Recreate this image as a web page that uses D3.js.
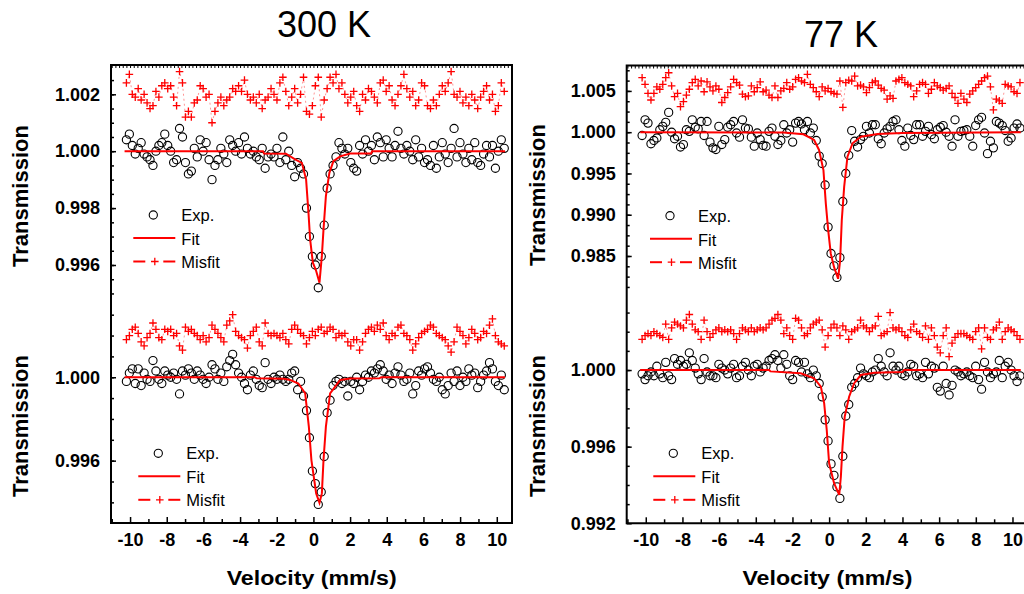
<!DOCTYPE html>
<html>
<head>
<meta charset="utf-8">
<script src="https://cdn.jsdelivr.net/npm/d3@7"></script>
<style>
  body { margin: 0; background: #fff; }
  svg { display: block; font-family: "Liberation Sans", Arial, Helvetica, sans-serif; }
</style>
</head>
<body>
<svg id="chart" width="1024" height="594"></svg>
<script>
// velocity channels are evenly spaced, starting at -10.2 mm/s
const velStart = -10.2;
const velStep = 0.161;

const xTicks = [-10, -8, -6, -4, -2, 0, 2, 4, 6, 8, 10];
const ticksTL = [0.996, 0.998, 1.000, 1.002];
const ticksBL = [0.996, 1.000];
const ticksTR = [0.985, 0.990, 0.995, 1.000, 1.005];
const ticksBR = [0.992, 0.996, 1.000];

// 300 K, upper spectrum
const expTL = [
  1.0004, 1.0006, 1.0002, 0.9999, 1.0001, 1.0003, 0.9999, 0.9998, 0.9997, 0.9995,
  1.0000, 1.0002, 1.0003, 1.0006, 1.0002, 1.0000, 0.9996, 0.9997, 1.0008, 1.0005,
  0.9996, 0.9992, 0.9993, 1.0001, 0.9998, 1.0004, 1.0000, 1.0003, 0.9997, 0.9990,
  0.9995, 0.9997, 1.0001, 0.9999, 0.9996, 1.0004, 1.0002, 1.0000, 1.0003, 0.9999,
  1.0005, 1.0001, 0.9999, 1.0000, 0.9998, 0.9997, 1.0001, 0.9994, 0.9998, 0.9999,
  0.9998, 1.0001, 0.9996, 1.0005, 0.9997, 1.0000, 0.9995, 0.9991, 0.9996, 0.9994,
  0.9992, 0.9980, 0.9970, 0.9963, 0.9960, 0.9952, 0.9963, 0.9974, 0.9987, 0.9992,
  0.9995, 0.9998, 1.0003, 1.0001, 0.9999, 1.0001, 0.9996, 0.9994, 0.9993, 1.0002,
  0.9999, 1.0004, 1.0000, 1.0002, 0.9997, 1.0005, 1.0003, 0.9998, 1.0004, 1.0001,
  0.9998, 1.0002, 1.0007, 1.0001, 0.9999, 1.0002, 1.0000, 0.9997, 1.0004, 0.9998,
  1.0001, 0.9996, 0.9997, 0.9995, 1.0002, 0.9994, 0.9998, 1.0003, 0.9999, 0.9996,
  1.0001, 1.0008, 0.9998, 1.0003, 0.9999, 0.9996, 1.0001, 0.9997, 1.0003, 0.9996,
  0.9995, 0.9999, 1.0002, 0.9998, 1.0002, 0.9994, 1.0000, 1.0004, 1.0001
];
const misTL = [
  1.0024, 1.0027, 1.0020, 1.0019, 1.0022, 1.0018, 1.0020, 1.0017, 1.0015, 1.0016,
  1.0021, 1.0019, 1.0023, 1.0024, 1.0022, 1.0023, 1.0019, 1.0016, 1.0028, 1.0024,
  1.0012, 1.0014, 1.0012, 1.0017, 1.0018, 1.0023, 1.0022, 1.0019, 1.0020, 1.0010,
  1.0014, 1.0017, 1.0019, 1.0016, 1.0018, 1.0019, 1.0022, 1.0021, 1.0023, 1.0021,
  1.0025, 1.0020, 1.0018, 1.0019, 1.0017, 1.0020, 1.0015, 1.0018, 1.0019, 1.0022,
  1.0020, 1.0018, 1.0024, 1.0026, 1.0021, 1.0016, 1.0019, 1.0022, 1.0017, 1.0020,
  1.0026, 1.0014, 1.0013, 1.0016, 1.0023, 1.0026, 1.0012, 1.0018, 1.0022, 1.0026,
  1.0024, 1.0027, 1.0022, 1.0024, 1.0020, 1.0017, 1.0019, 1.0021, 1.0016, 1.0014,
  1.0020, 1.0018, 1.0022, 1.0021, 1.0019, 1.0017, 1.0024, 1.0025, 1.0021, 1.0023,
  1.0018, 1.0016, 1.0020, 1.0023, 1.0027, 1.0022, 1.0019, 1.0021, 1.0016, 1.0018,
  1.0024, 1.0023, 1.0016, 1.0015, 1.0018, 1.0016, 1.0020, 1.0023, 1.0021, 1.0024,
  1.0028, 1.0020, 1.0019, 1.0021, 1.0017, 1.0019, 1.0016, 1.0020, 1.0018, 1.0015,
  1.0019, 1.0021, 1.0023, 1.0018, 1.0020, 1.0014, 1.0016, 1.0024, 1.0021
];
const fitTL = [
  [-10.3, 1.0], [-2.75, 1.0], [-2.7, 0.99992], [-1.5, 0.99991], [-1.0, 0.99971],
  [-0.63, 0.99959], [-0.40, 0.99901], [-0.27, 0.99784], [-0.18, 0.99690], [-0.03, 0.99608],
  [0.15, 0.99579], [0.33, 0.99538], [0.46, 0.99632], [0.55, 0.99725], [0.68, 0.99842],
  [0.87, 0.99924], [1.09, 0.99965], [1.46, 0.99982], [2.0, 0.99992], [3.15, 0.99992],
  [3.2, 1.0], [10.45, 1.0]
];

// 300 K, lower spectrum
const expBL = [
  0.9998, 1.0002, 1.0004, 0.9997, 1.0004, 0.9996, 1.0002, 0.9999, 0.9998, 1.0008,
  1.0003, 0.9999, 0.9997, 1.0003, 1.0001, 1.0000, 1.0002, 0.9999, 0.9992, 1.0003,
  1.0001, 1.0004, 1.0002, 0.9999, 1.0003, 1.0001, 0.9999, 0.9997, 1.0000, 1.0006,
  1.0004, 0.9999, 1.0002, 0.9998, 1.0005, 1.0008, 1.0011, 1.0006, 1.0002, 1.0000,
  0.9997, 0.9994, 1.0001, 1.0003, 0.9999, 0.9996, 0.9995, 1.0007, 0.9999, 0.9997,
  1.0000, 0.9999, 1.0001, 0.9999, 0.9998, 0.9999, 1.0002, 1.0003, 0.9994, 0.9998,
  0.9991, 0.9984, 0.9971, 0.9955, 0.9949, 0.9939, 0.9945, 0.9962, 0.9983, 0.9989,
  0.9996, 0.9998, 0.9999, 0.9997, 0.9998, 0.9991, 0.9998, 0.9997, 1.0000, 0.9994,
  0.9998, 1.0001, 1.0000, 1.0003, 1.0002, 1.0004, 1.0006, 1.0003, 0.9999, 1.0001,
  0.9997, 1.0002, 1.0005, 1.0001, 0.9998, 0.9999, 1.0002, 0.9992, 0.9996, 1.0003,
  1.0001, 1.0004, 1.0005, 1.0002, 0.9999, 0.9998, 1.0000, 0.9994, 0.9992, 0.9996,
  1.0002, 0.9998, 1.0003, 0.9996, 1.0000, 0.9998, 1.0004, 1.0001, 1.0002, 0.9995,
  0.9998, 1.0001, 1.0003, 1.0007, 1.0004, 0.9998, 0.9996, 1.0001, 0.9994
];
const misBL = [
  1.0018, 1.0020, 1.0023, 1.0024, 1.0021, 1.0017, 1.0015, 1.0019, 1.0021, 1.0026,
  1.0023, 1.0019, 1.0018, 1.0023, 1.0022, 1.0023, 1.0020, 1.0021, 1.0015, 1.0013,
  1.0024, 1.0022, 1.0023, 1.0021, 1.0020, 1.0018, 1.0020, 1.0017, 1.0019, 1.0025,
  1.0023, 1.0021, 1.0019, 1.0017, 1.0025, 1.0027, 1.0030, 1.0022, 1.0020, 1.0019,
  1.0018, 1.0014, 1.0020, 1.0022, 1.0024, 1.0017, 1.0015, 1.0026, 1.0021, 1.0020,
  1.0021, 1.0020, 1.0019, 1.0021, 1.0018, 1.0016, 1.0023, 1.0025, 1.0023, 1.0021,
  1.0020, 1.0016, 1.0019, 1.0022, 1.0020, 1.0023, 1.0024, 1.0021, 1.0022, 1.0024,
  1.0023, 1.0019, 1.0021, 1.0020, 1.0021, 1.0017, 1.0015, 1.0018, 1.0018, 1.0013,
  1.0017, 1.0021, 1.0023, 1.0024, 1.0022, 1.0025, 1.0023, 1.0026, 1.0020, 1.0018,
  1.0021, 1.0020, 1.0024, 1.0025, 1.0021, 1.0020, 1.0018, 1.0013, 1.0016, 1.0019,
  1.0021, 1.0022, 1.0023, 1.0025, 1.0024, 1.0021, 1.0020, 1.0019, 1.0018, 1.0015,
  1.0012, 1.0017, 1.0024, 1.0022, 1.0020, 1.0016, 1.0019, 1.0023, 1.0021, 1.0018,
  1.0019, 1.0022, 1.0021, 1.0025, 1.0028, 1.0020, 1.0017, 1.0016, 1.0015
];
const fitBL = [
  [-10.3, 1.0], [-3.2, 1.0], [-3.1, 0.99995], [-1.6, 0.99993], [-1.27, 0.99987],
  [-0.82, 0.99970], [-0.45, 0.99923], [-0.25, 0.99763], [-0.11, 0.99603], [0.15, 0.99443],
  [0.33, 0.99398], [0.46, 0.99443], [0.55, 0.99603], [0.68, 0.99763], [0.91, 0.99923],
  [1.46, 0.99987], [2.0, 0.99994], [3.6, 0.99995], [3.7, 1.0], [10.45, 1.0]
];

// 77 K, upper spectrum
const expTR = [
  0.9996, 1.0015, 1.0011, 0.9986, 0.9990, 0.9993, 1.0003, 1.0007, 1.0012, 1.0024,
  1.0000, 0.9992, 0.9995, 0.9982, 0.9985, 1.0003, 1.0001, 1.0015, 1.0006, 1.0004,
  1.0013, 0.9996, 1.0013, 0.9988, 0.9981, 0.9979, 1.0007, 0.9985, 0.9991, 1.0006,
  1.0009, 1.0013, 0.9999, 0.9994, 1.0015, 1.0005, 1.0004, 0.9994, 0.9983, 0.9999,
  0.9991, 0.9984, 0.9983, 1.0001, 1.0005, 0.9995, 0.9985, 0.9990, 1.0009, 0.9999,
  1.0003, 0.9988, 1.0011, 1.0013, 1.0010, 1.0003, 1.0013, 0.9999, 1.0005, 0.9990,
  0.9971, 0.9962, 0.9936, 0.9885, 0.9853, 0.9838, 0.9824, 0.9848, 0.9916, 0.9950,
  0.9972, 1.0002, 0.9989, 0.9982, 0.9991, 0.9995, 1.0007, 0.9999, 1.0009, 1.0009,
  0.9992, 0.9986, 0.9999, 1.0004, 1.0007, 1.0013, 1.0015, 1.0003, 0.9990, 0.9983,
  1.0005, 0.9996, 0.9991, 1.0009, 1.0009, 0.9995, 1.0001, 1.0007, 0.9997, 0.9992,
  1.0003, 1.0006, 1.0008, 1.0000, 0.9995, 0.9983, 1.0015, 0.9995, 1.0001, 1.0002,
  1.0003, 0.9995, 0.9983, 1.0008, 1.0015, 1.0018, 0.9999, 0.9974, 0.9989, 0.9981,
  1.0013, 1.0011, 1.0008, 1.0002, 0.9989, 0.9993, 1.0005, 1.0010, 1.0005
];
const misTR = [
  1.0066, 1.0058, 1.0047, 1.0039, 1.0047, 1.0055, 1.0052, 1.0058, 1.0066, 1.0072,
  1.0056, 1.0043, 1.0047, 1.0031, 1.0037, 1.0045, 1.0052, 1.0060, 1.0064, 1.0056,
  1.0062, 1.0049, 1.0061, 1.0055, 1.0050, 1.0056, 1.0052, 1.0036, 1.0042, 1.0048,
  1.0055, 1.0064, 1.0060, 1.0057, 1.0046, 1.0043, 1.0044, 1.0056, 1.0049, 1.0054,
  1.0061, 1.0049, 1.0051, 1.0045, 1.0042, 1.0056, 1.0042, 1.0050, 1.0053, 1.0060,
  1.0052, 1.0055, 1.0064, 1.0066, 1.0062, 1.0060, 1.0070, 1.0058, 1.0054, 1.0049,
  1.0043, 1.0055, 1.0050, 1.0053, 1.0049, 1.0047, 1.0046, 1.0062, 1.0030, 1.0060,
  1.0063, 1.0062, 1.0068, 1.0056, 1.0057, 1.0055, 1.0048, 1.0054, 1.0060, 1.0062,
  1.0057, 1.0053, 1.0051, 1.0040, 1.0044, 1.0041, 1.0062, 1.0064, 1.0066, 1.0060,
  1.0058, 1.0056, 1.0043, 1.0050, 1.0058, 1.0060, 1.0058, 1.0047, 1.0052, 1.0060,
  1.0056, 1.0054, 1.0051, 1.0053, 1.0056, 1.0047, 1.0042, 1.0035, 1.0047, 1.0040,
  1.0036, 1.0046, 1.0050, 1.0054, 1.0058, 1.0062, 1.0066, 1.0068, 1.0055, 1.0027,
  1.0040, 1.0038, 1.0035, 1.0058, 1.0056, 1.0055, 1.0049, 1.0047, 1.0060
];
const fitTR = [
  [-10.3, 1.0], [-2.5, 0.99995], [-1.4, 0.99975], [-0.82, 0.99906], [-0.55, 0.99785],
  [-0.31, 0.99541], [-0.18, 0.99135], [-0.05, 0.98811], [0.09, 0.98528], [0.27, 0.98365],
  [0.49, 0.98224], [0.60, 0.98447], [0.69, 0.98933], [0.82, 0.99338], [1.0, 0.99703],
  [1.28, 0.99866], [1.73, 0.99946], [2.64, 0.99979], [4.0, 0.99990], [10.45, 1.0]
];

// 77 K, lower spectrum
const expBR = [
  0.9998, 0.9995, 0.9997, 0.9999, 0.9997, 1.0002, 0.9998, 0.9996, 1.0004, 0.9997,
  0.9995, 1.0006, 1.0003, 1.0005, 1.0002, 1.0003, 1.0009, 1.0005, 1.0001, 0.9998,
  0.9995, 1.0006, 0.9999, 0.9997, 0.9997, 0.9996, 1.0003, 1.0001, 1.0000, 0.9998,
  1.0001, 1.0003, 0.9996, 0.9997, 1.0002, 1.0004, 1.0000, 0.9997, 1.0002, 1.0003,
  0.9999, 1.0001, 1.0002, 1.0005, 1.0006, 1.0008, 1.0005, 1.0001, 1.0008, 1.0003,
  0.9997, 0.9995, 1.0005, 1.0004, 0.9999, 1.0004, 0.9998, 0.9996, 1.0000, 0.9997,
  0.9993, 0.9986, 0.9974, 0.9963, 0.9951, 0.9945, 0.9939, 0.9933, 0.9955, 0.9976,
  0.9982, 0.9991, 0.9993, 0.9996, 1.0001, 0.9998, 0.9997, 0.9996, 0.9999, 1.0000,
  1.0006, 1.0002, 0.9999, 0.9997, 1.0009, 1.0002, 1.0000, 1.0002, 0.9998, 0.9997,
  0.9999, 1.0003, 1.0002, 0.9997, 0.9998, 0.9996, 1.0004, 0.9998, 1.0002, 1.0001,
  0.9991, 0.9989, 1.0002, 0.9993, 0.9987, 0.9992, 1.0000, 0.9999, 0.9997, 0.9998,
  0.9999, 0.9997, 0.9996, 1.0002, 0.9995, 0.9990, 1.0004, 0.9999, 0.9996, 0.9998,
  0.9999, 1.0005, 0.9996, 1.0002, 1.0004, 1.0000, 0.9997, 0.9994, 0.9997
];
const misBR = [
  1.0016, 1.0018, 1.0019, 1.0018, 1.0020, 1.0019, 1.0018, 1.0017, 1.0024, 1.0016,
  1.0022, 1.0025, 1.0024, 1.0023, 1.0022, 1.0026, 1.0029, 1.0024, 1.0021, 1.0020,
  1.0016, 1.0026, 1.0020, 1.0017, 1.0019, 1.0021, 1.0022, 1.0020, 1.0021, 1.0020,
  1.0021, 1.0019, 1.0016, 1.0019, 1.0022, 1.0021, 1.0020, 1.0022, 1.0020, 1.0021,
  1.0022, 1.0021, 1.0022, 1.0024, 1.0026, 1.0027, 1.0029, 1.0026, 1.0019, 1.0022,
  1.0018, 1.0016, 1.0027, 1.0026, 1.0022, 1.0018, 1.0019, 1.0022, 1.0024, 1.0025,
  1.0026, 1.0021, 1.0012, 1.0018, 1.0022, 1.0024, 1.0022, 1.0018, 1.0023, 1.0021,
  1.0016, 1.0020, 1.0021, 1.0022, 1.0026, 1.0023, 1.0022, 1.0020, 1.0022, 1.0023,
  1.0028, 1.0018, 1.0019, 1.0020, 1.0030, 1.0022, 1.0021, 1.0022, 1.0020, 1.0018,
  1.0017, 1.0021, 1.0024, 1.0020, 1.0019, 1.0017, 1.0023, 1.0016, 1.0022, 1.0018,
  1.0012, 1.0009, 1.0018, 1.0022, 1.0007, 1.0014, 1.0017, 1.0019, 1.0019, 1.0019,
  1.0018, 1.0017, 1.0016, 1.0020, 1.0022, 1.0011, 1.0022, 1.0017, 1.0016, 1.0021,
  1.0022, 1.0025, 1.0016, 1.0020, 1.0022, 1.0021, 1.0020, 1.0018, 1.0016
];
const fitBR = [
  [-10.3, 1.0], [-3.27, 1.0], [-3.2, 0.99993], [-1.55, 0.99983], [-0.82, 0.99957],
  [-0.45, 0.99913], [-0.27, 0.99826], [-0.13, 0.99687], [0.0, 0.99513], [0.27, 0.99409],
  [0.55, 0.99348], [0.64, 0.99443], [0.73, 0.99600], [0.85, 0.99757], [1.09, 0.99861],
  [1.36, 0.99930], [1.73, 0.99974], [2.45, 0.99986], [4.0, 0.99990], [4.09, 1.0], [10.45, 1.0]
];

const svg = d3.select('#chart');
const red = '#ff0000';
const xDomain = [-11.04, 10.83];
const colWidth = 401;

const columns = [
  { left: 111, top: 65, bottom: 523, title: '300 K', titleX: 324, titleY: 37, labelX: 28 },
  { left: 626.7, top: 65.5, bottom: 523.3, title: '77 K', titleX: 841, titleY: 46.5, labelX: 545 }
];

const panels = [
  { col: 0, top: 65, bottom: 298, domain: [0.99484, 1.00303], ticks: ticksTL, minor: 0.0005,
    exp: expTL, mis: misTL, fit: fitTL, legend: [153.3, 215], labelY: 196 },
  { col: 0, top: 298, bottom: 523, domain: [0.99301, 1.0038], ticks: ticksBL, minor: 0.001,
    exp: expBL, mis: misBL, fit: fitBL, legend: [158.3, 453.3], labelY: 426 },
  { col: 1, top: 65.5, bottom: 298, domain: [0.97991, 1.00808], ticks: ticksTR, minor: 0.00125,
    exp: expTR, mis: misTR, fit: fitTR, legend: [670, 215.7], labelY: 195 },
  { col: 1, top: 298, bottom: 523.3, domain: [0.992, 1.00376], ticks: ticksBR, minor: 0.001,
    exp: expBR, mis: misBR, fit: fitBR, legend: [673.3, 453.3], labelY: 426 }
];

const plusPath = 'M-3.8,0H3.8M0,-3.8V3.8';

columns.forEach(c => {
  const x = d3.scaleLinear().domain(xDomain).range([c.left, c.left + colWidth]);
  c.x = x;
  const g = svg.append('g');

  // bottom axis, ticks pointing inward
  g.append('g')
    .attr('transform', `translate(0,${c.bottom})`)
    .call(d3.axisBottom(x).tickValues(xTicks).tickSize(-6).tickPadding(10).tickFormat(d => String(d)))
    .call(a => a.select('.domain').remove())
    .call(a => a.selectAll('line').attr('stroke', '#000').attr('stroke-width', 1.5))
    .call(a => a.selectAll('text').attr('font-size', 18).attr('font-weight', 'bold')
      .attr('font-family', '"Liberation Sans", Arial, sans-serif').attr('fill', '#000'));
  g.append('g')
    .attr('transform', `translate(0,${c.bottom})`)
    .call(d3.axisBottom(x).tickValues(d3.range(-11, 11, 1).filter(v => v % 2 !== 0)).tickSize(-4).tickFormat(''))
    .call(a => a.select('.domain').remove())
    .call(a => a.selectAll('line').attr('stroke', '#000').attr('stroke-width', 1.5));

  // fine ruler ticks along the top edge
  g.append('g')
    .attr('transform', `translate(0,${c.top})`)
    .call(d3.axisTop(x).tickValues(d3.range(-110, 109, 2).map(k => k / 10)).tickSize(-3).tickFormat(''))
    .call(a => a.select('.domain').remove())
    .call(a => a.selectAll('line').attr('stroke', '#000').attr('stroke-width', 1));

  // frame
  const r = c.left + colWidth;
  g.append('path')
    .attr('d', `M${c.left},${c.top}H${r}V${c.bottom}H${c.left}Z`)
    .attr('fill', 'none').attr('stroke', '#000').attr('stroke-width', 2);

  svg.append('text')
    .attr('x', c.titleX).attr('y', c.titleY)
    .attr('text-anchor', 'middle').attr('font-size', 36).attr('fill', '#000')
    .text(c.title);

  svg.append('text')
    .attr('x', (c.left + 200.7)).attr('y', 585)
    .attr('text-anchor', 'middle').attr('font-size', 20).attr('font-weight', 'bold')
    .attr('textLength', 170).attr('lengthAdjust', 'spacingAndGlyphs')
    .text('Velocity (mm/s)');
});

panels.forEach(p => {
  const c = columns[p.col];
  const x = c.x;
  const y = d3.scaleLinear().domain(p.domain).range([p.bottom, p.top]);
  const g = svg.append('g');

  // left axis: major + minor ticks, pointing inward
  const m = p.minor;
  const minorVals = d3.range(Math.ceil(p.domain[0] / m - 1e-6), Math.floor(p.domain[1] / m + 1e-6) + 1)
    .map(k => k * m)
    .filter(v => y(v) > p.top + 1 && y(v) < p.bottom - 1);
  g.append('g')
    .attr('transform', `translate(${c.left},0)`)
    .call(d3.axisLeft(y).tickValues(minorVals).tickSize(-3).tickFormat(''))
    .call(a => a.select('.domain').remove())
    .call(a => a.selectAll('line').attr('stroke', '#000').attr('stroke-width', 1.5));
  g.append('g')
    .attr('transform', `translate(${c.left},0)`)
    .call(d3.axisLeft(y).tickValues(p.ticks).tickSize(-5).tickPadding(11).tickFormat(d3.format('.3f')))
    .call(a => a.select('.domain').remove())
    .call(a => a.selectAll('line').attr('stroke', '#000').attr('stroke-width', 1.5))
    .call(a => a.selectAll('text').attr('font-size', 18).attr('font-weight', 'bold')
      .attr('font-family', '"Liberation Sans", Arial, sans-serif').attr('fill', '#000'));

  // y axis title
  svg.append('text')
    .attr('transform', `translate(${c.labelX},${p.labelY}) rotate(-90)`)
    .attr('text-anchor', 'middle').attr('font-size', 22).attr('font-weight', 'bold')
    .text('Transmission');

  const vel = i => velStart + i * velStep;

  // misfit: dashed connection + crosses
  g.append('path')
    .datum(p.mis)
    .attr('d', d3.line().x((d, i) => x(vel(i))).y(d => y(d)))
    .attr('fill', 'none').attr('stroke', red).attr('stroke-width', 0.7)
    .attr('stroke-dasharray', '2,3').attr('opacity', 0.6);
  g.selectAll('.mis')
    .data(p.mis)
    .join('path')
    .attr('class', 'mis')
    .attr('transform', (d, i) => `translate(${x(vel(i))},${y(d)})`)
    .attr('d', plusPath)
    .attr('stroke', red).attr('stroke-width', 1.3).attr('fill', 'none');

  // experimental points
  g.selectAll('.exp')
    .data(p.exp)
    .join('circle')
    .attr('class', 'exp')
    .attr('cx', (d, i) => x(vel(i)))
    .attr('cy', d => y(d))
    .attr('r', 4.1)
    .attr('fill', 'none').attr('stroke', '#000').attr('stroke-width', 1.1);

  // fit
  g.append('path')
    .datum(p.fit)
    .attr('d', d3.line().x(d => x(d[0])).y(d => y(d[1])))
    .attr('fill', 'none').attr('stroke', red).attr('stroke-width', 2);

  // legend
  const [lx, ly] = p.legend;
  const lg = svg.append('g').attr('font-size', 16.5).attr('fill', '#000');
  lg.append('circle').attr('cx', lx).attr('cy', ly).attr('r', 4.1)
    .attr('fill', 'none').attr('stroke', '#000').attr('stroke-width', 1.1);
  lg.append('text').attr('x', lx + 28).attr('y', ly + 6).text('Exp.');
  lg.append('line').attr('x1', lx - 20).attr('x2', lx + 22).attr('y1', ly + 23).attr('y2', ly + 23)
    .attr('stroke', red).attr('stroke-width', 2);
  lg.append('text').attr('x', lx + 28).attr('y', ly + 30).text('Fit');
  [[lx - 20, lx - 8], [lx + 10, lx + 22]].forEach(([a, b]) => {
    lg.append('line').attr('x1', a).attr('x2', b).attr('y1', ly + 46.5).attr('y2', ly + 46.5)
      .attr('stroke', red).attr('stroke-width', 2);
  });
  lg.append('path').attr('transform', `translate(${lx + 1.5},${ly + 46.5})`).attr('d', plusPath)
    .attr('stroke', red).attr('stroke-width', 1.3);
  lg.append('text').attr('x', lx + 28).attr('y', ly + 53).text('Misfit');
});
</script>
</body>
</html>
